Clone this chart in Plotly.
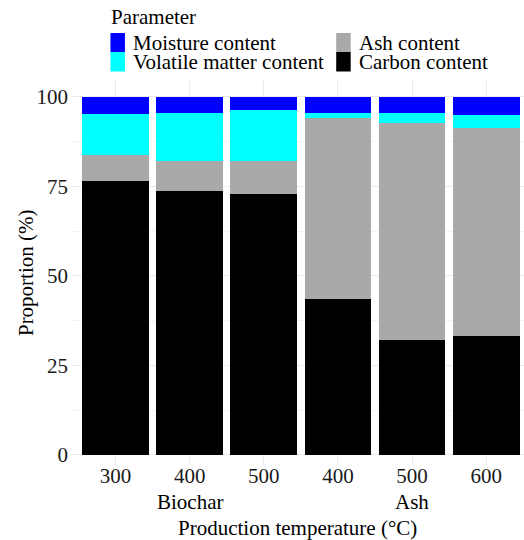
import plotly.graph_objects as go

# Production temperatures (°C) and material group for each bar
temperatures = ["300", "400", "500", "400", "500", "600"]
groups = ["Biochar", "Biochar", "Biochar", "Ash", "Ash", "Ash"]

# Proximate composition (%) of each sample
carbon_content = [76.4, 73.7, 73.0, 43.6, 32.1, 33.2]
ash_content = [7.4, 8.3, 9.0, 50.6, 60.6, 58.0]
volatile_content = [11.3, 13.6, 14.3, 1.4, 2.9, 3.7]
moisture_content = [4.9, 4.4, 3.7, 4.4, 4.4, 5.1]

y_ticks = [0, 25, 50, 75, 100]

FONT = "Liberation Serif, Times New Roman, serif"
FS = 21

W, H = 524, 540
L, R, T, B = 70.5, 0, 80, 75
PLOT_W = W - L - R
PLOT_H = H - T - B


def px_x(px):
    return (px - L) / PLOT_W


def px_y(py):
    return (H - B - py) / PLOT_H


# stacked bottom to top
series = [
    ("Carbon content", carbon_content, "#000000"),
    ("Ash content", ash_content, "#A9A9A9"),
    ("Volatile matter content", volatile_content, "#00FFFF"),
    ("Moisture content", moisture_content, "#0000FF"),
]

x_pos = list(range(len(temperatures)))

fig = go.Figure()
for name, vals, col in series:
    fig.add_trace(go.Bar(
        x=x_pos, y=vals, name=name, width=0.9,
        marker=dict(color=col, line=dict(width=0)),
        showlegend=False,
    ))

# group labels centred under each group's middle bar
group_names = []
for g in groups:
    if g not in group_names:
        group_names.append(g)
for g in group_names:
    idx = [i for i, gg in enumerate(groups) if gg == g]
    mid = sum(idx) / len(idx)
    fig.add_annotation(x=mid, y=px_y(502), xref="x", yref="paper", text=g,
                       showarrow=False, yanchor="middle",
                       font=dict(family=FONT, size=FS, color="black"))

# axis titles
fig.add_annotation(xref="paper", yref="paper", x=0.5, y=px_y(527.5),
                   text="Production temperature (°C)", showarrow=False,
                   yanchor="middle", font=dict(family=FONT, size=FS, color="black"))
fig.add_annotation(xref="paper", yref="paper", x=px_x(25), y=0.5,
                   text="Proportion (%)", showarrow=False, textangle=-90,
                   xanchor="center", yanchor="middle",
                   font=dict(family=FONT, size=FS, color="black"))

# legend drawn as swatches + labels, two columns
legend_layout = [
    ("Moisture content", "#0000FF", 110, 33),
    ("Volatile matter content", "#00FFFF", 110, 52),
    ("Ash content", "#A9A9A9", 336, 33),
    ("Carbon content", "#000000", 336, 52),
]
for label, col, px, py in legend_layout:
    fig.add_shape(type="rect", xref="paper", yref="paper",
                  x0=px_x(px), x1=px_x(px + 14.5),
                  y0=px_y(py + 19.5), y1=px_y(py),
                  fillcolor=col, line=dict(width=0), layer="above")
    fig.add_annotation(xref="paper", yref="paper",
                       x=px_x(px + 21), y=px_y(py + 10),
                       text=label, showarrow=False, xanchor="left", yanchor="middle",
                       font=dict(family=FONT, size=FS, color="black"))
fig.add_annotation(xref="paper", yref="paper",
                   x=px_x(109), y=px_y(17),
                   text="Parameter", showarrow=False, xanchor="left", yanchor="middle",
                   font=dict(family=FONT, size=FS, color="black"))

fig.update_layout(
    width=W, height=H,
    margin=dict(l=L, r=R, t=T, b=B, pad=0),
    barmode="stack", bargap=0.1,
    plot_bgcolor="white", paper_bgcolor="white",
    font=dict(family=FONT, size=FS, color="black"),
    showlegend=False,
)
fig.update_xaxes(
    range=[-0.6, 5.51], tickvals=x_pos, ticktext=temperatures,
    showgrid=True, gridcolor="#EBEBEB", gridwidth=1,
    zeroline=False, showline=False, ticks="", automargin=False,
    ticklabelstandoff=-4,
    tickfont=dict(family=FONT, size=FS, color="#1a1a1a"),
)
fig.update_yaxes(
    range=[-2.8, 104.7], tickvals=y_ticks,
    showgrid=True, gridcolor="#EBEBEB", gridwidth=1,
    minor=dict(tickvals=[12.5, 37.5, 62.5, 87.5], showgrid=True,
               gridcolor="#F4F4F4", gridwidth=1),
    zeroline=False, showline=False, ticks="", automargin=False,
    ticklabelstandoff=2,
    tickfont=dict(family=FONT, size=FS, color="#1a1a1a"),
)

fig.write_html("out.html")
